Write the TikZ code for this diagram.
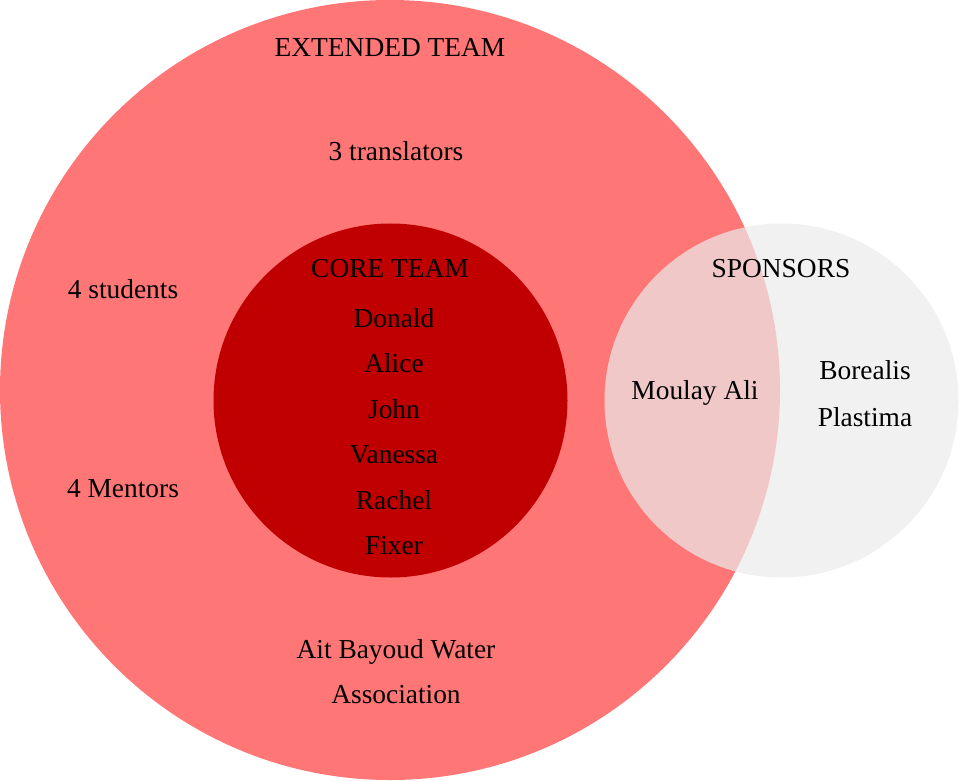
\documentclass[tikz,border=0pt]{standalone}
\usepackage{fontspec}
\setmainfont{Liberation Serif}
\usepackage{xcolor}
\usepackage{tikz}
\usetikzlibrary{positioning}

\definecolor{extred}{HTML}{FF7676}
\definecolor{corered}{HTML}{C00000}
\definecolor{sponsgray}{HTML}{EBEBEB}

\begin{document}
\begin{tikzpicture}[
    x=1bp, y=-1bp,
    node distance=19bp,
    zone/.style={circle, inner sep=0pt, draw=none},
    member/.style={inner sep=0pt, text height=19bp, text depth=7bp, align=center, font=\fontsize{27.5}{32}\selectfont},
]
    \useasboundingbox (0,0) rectangle (959,781);

    % Team circles
    \node[zone, fill=extred, minimum size=780bp] (extended) at (390,390) {};
    \node[zone, fill=corered, minimum size=354bp] (core) at (390.5,400.5) {};
    \node[zone, fill=sponsgray, fill opacity=0.7, minimum size=354bp] (sponsors) at (781.5,400.5) {};

    % Extended team
    \node[member] (ext_title) at (390,51) {EXTENDED TEAM};
    \node[member] (translators) at (396,154) {3 translators};
    \node[member] (students) at (123,292) {4 students};
    \node[member] (mentors) at (123,491) {4 Mentors};
    \node[member] (aitbayoud) at (396,652) {Ait Bayoud Water};
    \node[member, below=of aitbayoud] (association) {Association};

    % Core team
    \node[member] (core_title) at (390,271) {CORE TEAM};
    \node[member, below=24bp of core_title, xshift=4bp] (donald) {Donald};
    \node[member, below=of donald] (alice) {Alice};
    \node[member, below=of alice] (john) {John};
    \node[member, below=of john] (vanessa) {Vanessa};
    \node[member, below=of vanessa] (rachel) {Rachel};
    \node[member, below=of rachel] (fixer) {Fixer};

    % Sponsors
    \node[member] (spons_title) at (781,271) {SPONSORS};
    \node[member] (moulay) at (695,393) {Moulay Ali};
    \node[member] (borealis) at (865,373) {Borealis};
    \node[member, below=21bp of borealis] (plastima) {Plastima};

\end{tikzpicture}
\end{document}
